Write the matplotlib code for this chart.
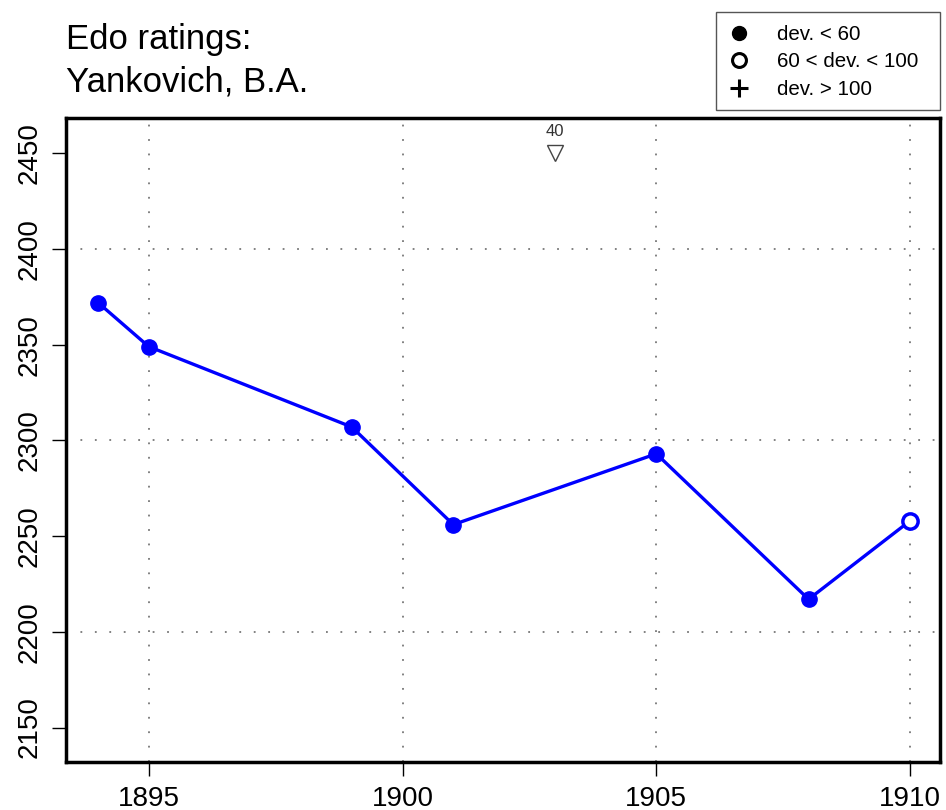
import matplotlib.pyplot as plt
from matplotlib.lines import Line2D
from matplotlib.patches import Rectangle

plt.rcParams['font.family'] = ['Liberation Sans', 'DejaVu Sans']

# ratings by year
years = [1894, 1895, 1899, 1901, 1905, 1908, 1910]
ratings = [2372, 2349, 2307, 2256, 2293, 2217, 2258]
dev_class = ['low', 'low', 'low', 'low', 'low', 'low', 'mid']

# off-scale marker
off_year = 1903
off_rating = 2450
off_label = '40'

xticks = [1895, 1900, 1905, 1910]
yticks = [2150, 2200, 2250, 2300, 2350, 2400, 2450]
ygrid = [2200, 2300, 2400]

W, H = 946, 810
fig = plt.figure(figsize=(W / 100, H / 100), dpi=100)
ax = fig.add_axes([0.0698, 0.0593, 0.9239, 0.7947])

for g in xticks:
    ax.axvline(g, color='#777777', ls=(0, (1, 7)), lw=1.3, zorder=0)
for g in ygrid:
    ax.axhline(g, color='#777777', ls=(0, (1, 7)), lw=1.3, zorder=0)

ax.plot(years, ratings, color='#0000ff', lw=2.4, zorder=2)
for x, y, c in zip(years, ratings, dev_class):
    if c == 'low':
        ax.plot(x, y, 'o', color='#0000ff', ms=11, zorder=3)
    else:
        ax.plot(x, y, 'o', mfc='white', mec='#0000ff', mew=2.5, ms=11, zorder=3)

ax.plot(off_year, off_rating, 'v', mfc='white', mec='#444444', ms=11, mew=1)
ax.annotate(off_label, (off_year, off_rating), xytext=(0, 10), textcoords='offset points',
            ha='center', va='bottom', fontsize=12, color='#333333')

ax.set_xlim(1893.37, 1910.59)
ax.set_ylim(2132, 2468.3)
ax.set_xticks(xticks)
ax.set_yticks(yticks)
ax.tick_params(labelsize=20, length=10, width=1, direction='out', pad=7)
for lab in ax.get_yticklabels():
    lab.set_rotation(90)
    lab.set_va('center')
for s in ax.spines.values():
    s.set_linewidth(2.5)

fig.text(66 / W, 1 - 40 / H, 'Edo ratings:', fontsize=25, va='center', ha='left')
fig.text(66 / W, 1 - 82 / H, 'Yankovich, B.A.', fontsize=25, va='center', ha='left')

# legend box
fig.patches.append(Rectangle((716 / W, 1 - 110 / H), 224 / W, 98 / H, transform=fig.transFigure,
                             fill=False, edgecolor='#555555', lw=1))
handles = [
    Line2D([], [], marker='o', ls='none', color='black', ms=10),
    Line2D([], [], marker='o', ls='none', mfc='white', mec='black', mew=2.2, ms=10),
    Line2D([], [], marker='+', ls='none', color='black', ms=13, mew=2.2),
]
labels = ['dev. < 60', '60 < dev. < 100', 'dev. > 100']
fig.legend(handles, labels, loc='center left', bbox_to_anchor=(727 / W, 1 - 62 / H),
           fontsize=14.8, frameon=False, handlelength=1.2, handletextpad=1.25,
           labelspacing=0.4, borderpad=0, borderaxespad=0)

fig.savefig('out.png', dpi=100)
